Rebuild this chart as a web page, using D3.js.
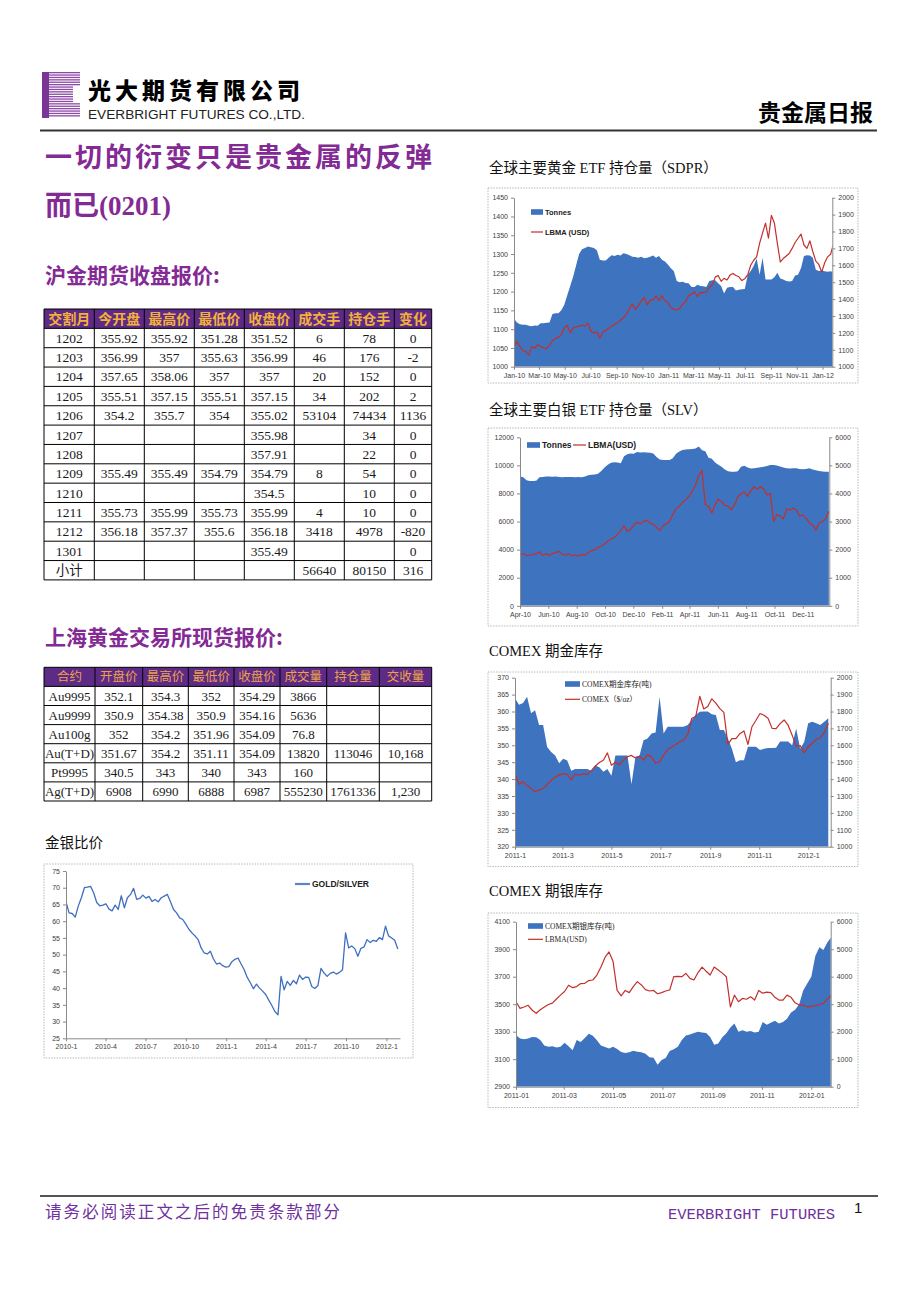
<!DOCTYPE html>
<html>
<head>
<meta charset="utf-8">
<script src="https://cdn.jsdelivr.net/npm/d3@7"></script>
<style>
  body { margin: 0; background: #fff; }
</style>
</head>
<body>
<svg id="page" width="920" height="1302" font-family="'Liberation Sans', Arial, sans-serif"></svg>
<script>
// ---------- table data ----------
const futHeader = ["交割月", "今开盘", "最高价", "最低价", "收盘价", "成交手", "持仓手", "变化"];
const futRows = [
  ["1202", "355.92", "355.92", "351.28", "351.52", "6", "78", "0"],
  ["1203", "356.99", "357", "355.63", "356.99", "46", "176", "-2"],
  ["1204", "357.65", "358.06", "357", "357", "20", "152", "0"],
  ["1205", "355.51", "357.15", "355.51", "357.15", "34", "202", "2"],
  ["1206", "354.2", "355.7", "354", "355.02", "53104", "74434", "1136"],
  ["1207", "", "", "", "355.98", "", "34", "0"],
  ["1208", "", "", "", "357.91", "", "22", "0"],
  ["1209", "355.49", "355.49", "354.79", "354.79", "8", "54", "0"],
  ["1210", "", "", "", "354.5", "", "10", "0"],
  ["1211", "355.73", "355.99", "355.73", "355.99", "4", "10", "0"],
  ["1212", "356.18", "357.37", "355.6", "356.18", "3418", "4978", "-820"],
  ["1301", "", "", "", "355.49", "", "", "0"],
  ["小计", "", "", "", "", "56640", "80150", "316"]
];

const spotHeader = ["合约", "开盘价", "最高价", "最低价", "收盘价", "成交量", "持仓量", "交收量"];
const spotRows = [
  ["Au9995", "352.1", "354.3", "352", "354.29", "3866", "", ""],
  ["Au9999", "350.9", "354.38", "350.9", "354.16", "5636", "", ""],
  ["Au100g", "352", "354.2", "351.96", "354.09", "76.8", "", ""],
  ["Au(T+D)", "351.67", "354.2", "351.11", "354.09", "13820", "113046", "10,168"],
  ["Pt9995", "340.5", "343", "340", "343", "160", "", ""],
  ["Ag(T+D)", "6908", "6990", "6888", "6987", "555230", "1761336", "1,230"]
];

// ---------- chart data (weekly / 5-day readings) ----------
// SPDR gold ETF, weekly from 2010-01-01
const sdprTonnes = [
  1128,1118,1113,1112,1112,1109,1108,1110,1109,1116,
  1116,1117,1118,1140,1142,1142,1150,1165,1190,1215,
  1240,1270,1300,1313,1316,1320,1318,1316,1310,1285,
  1283,1283,1290,1297,1295,1298,1296,1302,1300,1297,
  1293,1292,1290,1293,1289,1290,1293,1296,1290,1295,
  1285,1280,1272,1262,1255,1228,1225,1226,1223,1222,
  1212,1212,1218,1215,1214,1212,1228,1230,1230,1222,
  1215,1195,1210,1212,1212,1203,1205,1206,1207,1245,
  1255,1268,1288,1245,1290,1232,1232,1232,1238,1250,
  1235,1232,1228,1227,1228,1243,1245,1263,1295,1297,
  1296,1290,1258,1255,1256,1254,1253,1254,1252
];
const sdprLbma = [
  1120,1150,1120,1095,1090,1070,1120,1110,1130,1120,
  1112,1105,1128,1155,1165,1175,1190,1230,1245,1200,
  1230,1235,1240,1245,1240,1258,1210,1200,1207,1170,
  1205,1215,1228,1240,1250,1262,1275,1290,1310,1345,
  1370,1340,1360,1390,1410,1365,1394,1395,1420,1390,
  1420,1390,1380,1350,1340,1335,1345,1370,1385,1420,
  1430,1444,1414,1440,1438,1444,1470,1483,1530,1540,
  1505,1523,1513,1542,1552,1540,1532,1510,1520,1545,
  1600,1630,1650,1730,1790,1850,1760,1895,1850,1730,
  1620,1640,1655,1670,1700,1735,1760,1785,1720,1700,
  1745,1680,1625,1605,1560,1615,1650,1665,1730
];
const sdprLeftTicks = [1000, 1050, 1100, 1150, 1200, 1250, 1300, 1350, 1400, 1450];
const sdprRightTicks = [1000, 1100, 1200, 1300, 1400, 1500, 1600, 1700, 1800, 1900, 2000];
const sdprXLabels = ["Jan-10", "Mar-10", "May-10", "Jul-10", "Sep-10", "Nov-10", "Jan-11",
  "Mar-11", "May-11", "Jul-11", "Sep-11", "Nov-11", "Jan-12"];

// iShares silver ETF, weekly from 2010-04-01
const slvTonnes = [
  9200,9150,8950,8890,8880,8900,9150,9180,9200,9210,
  9190,9200,9180,9160,9170,9180,9170,9160,9170,9160,
  9200,9300,9330,9350,9400,9600,9850,10050,10180,10220,
  10210,10150,10650,10800,10850,10830,10950,10920,10930,10920,
  10900,10850,10600,10420,10380,10390,10380,10500,10820,10980,
  11100,11140,11150,11160,11200,11350,11080,11000,10550,10480,
  10200,10050,9900,9700,9580,9550,9540,9580,9900,9980,
  9850,9780,9800,9830,9860,9900,9950,10030,10020,10000,
  9920,9850,9790,9780,9800,9790,9740,9720,9740,9790,
  9700,9650,9600,9560,9550,9550
];
const slvLbma = [
  1810,1860,1790,1800,1830,1850,1920,1800,1850,1790,
  1860,1900,1940,1830,1800,1850,1780,1800,1770,1830,
  1800,1900,1960,2000,2080,2130,2200,2300,2380,2430,
  2550,2680,2850,2650,2720,2870,2980,2920,3000,3050,
  2950,2900,2800,2680,2850,2920,3000,3250,3450,3550,
  3680,3780,3900,4080,4300,4650,4820,3600,3550,3300,
  3600,3800,3700,3580,3550,3420,3600,3880,4000,4050,
  3900,4100,4240,4150,4250,4150,3950,4000,3000,3250,
  3200,3100,3450,3400,3480,3420,3200,3230,3120,2950,
  2880,2700,2950,3000,3100,3370
];
const slvLeftTicks = [0, 2000, 4000, 6000, 8000, 10000, 12000];
const slvRightTicks = [0, 1000, 2000, 3000, 4000, 5000, 6000];
const slvXLabels = ["Apr-10", "Jun-10", "Aug-10", "Oct-10", "Dec-10", "Feb-11", "Apr-11",
  "Jun-11", "Aug-11", "Oct-11", "Dec-11"];

// COMEX gold stock and price, every 5 days from 2011-01-01
const cmxGoldStock = [
  363.9,362,362.5,364.4,359.5,360.4,356,356,349.5,348,
  347,344.7,346,345.5,342.5,343,343,343,343,342.5,
  344,343.5,342.2,343,341,347,347,347,347,338.5,
  346.6,347,351.5,352,353.5,353.8,364.4,353.5,355.5,355.5,
  355.5,355.5,355.5,356,357.5,359,359.9,360,360,359.2,
  359,354.5,354.5,352,349,345,345.6,345.6,349.6,349.6,
  349.6,348.6,349,349.2,349.2,349.3,351.1,351.1,351.1,350,
  355,349,351,356.5,357,356.5,356,357,358
];
const cmxGoldPrice = [
  1430,1370,1385,1362,1345,1325,1335,1345,1368,1392,
  1412,1425,1432,1428,1395,1430,1423,1432,1428,1450,
  1478,1498,1512,1555,1482,1500,1485,1512,1532,1540,
  1525,1535,1512,1545,1530,1495,1502,1540,1575,1590,
  1605,1620,1630,1665,1760,1770,1890,1815,1830,1875,
  1850,1817,1795,1605,1640,1640,1669,1685,1605,1710,
  1748,1788,1778,1760,1700,1699,1728,1750,1719,1660,
  1595,1598,1555,1591,1612,1635,1645,1675,1730
];
const cmxGoldLeftTicks = [320, 325, 330, 335, 340, 345, 350, 355, 360, 365, 370];
const cmxGoldRightTicks = [1000, 1100, 1200, 1300, 1400, 1500, 1600, 1700, 1800, 1900, 2000];
const cmxGoldXLabels = ["2011-1", "2011-3", "2011-5", "2011-7", "2011-9", "2011-11", "2012-1"];

// COMEX silver stock and LBMA silver, every 5 days from 2011-01-01
const cmxSilverStock = [
  3276,3250,3245,3250,3262,3260,3240,3200,3190,3195,
  3185,3190,3220,3195,3165,3240,3225,3255,3285,3270,
  3238,3200,3188,3178,3190,3175,3152,3145,3150,3162,
  3155,3150,3140,3115,3110,3060,3095,3108,3160,3172,
  3190,3240,3272,3280,3290,3300,3295,3290,3262,3205,
  3215,3260,3288,3330,3360,3300,3310,3300,3305,3295,
  3300,3370,3350,3365,3380,3360,3370,3395,3440,3460,
  3500,3600,3650,3700,3850,3915,3895,3950,3990
];
const cmxSilverLbma = [
  3090,2850,2900,2960,2780,2670,2800,2900,2990,3040,
  3190,3330,3460,3690,3600,3640,3750,3760,3860,3880,
  4060,4350,4700,4900,4550,3500,3300,3500,3420,3640,
  3820,3700,3530,3480,3500,3380,3420,3480,3515,4000,
  4010,4000,4120,3940,3880,4150,4350,4200,4060,4350,
  4240,4130,4000,2900,3330,3090,3210,3180,3270,3150,
  3500,3400,3440,3420,3250,3150,3150,3330,3250,3050,
  2970,2970,2900,2920,2950,2990,3030,3200,3330
];
const cmxSilverLeftTicks = [2900, 3100, 3300, 3500, 3700, 3900, 4100];
const cmxSilverRightTicks = [0, 1000, 2000, 3000, 4000, 5000, 6000];
const cmxSilverXLabels = ["2011-01", "2011-03", "2011-05", "2011-07", "2011-09", "2011-11", "2012-01"];

// gold / silver ratio, weekly from 2010-01-01
const goldSilver = [
  65.8,62.5,62.3,61.2,64.5,67.0,70.0,70.2,70.4,68.5,
  65.6,64.6,64.8,65.2,63.6,63.1,64.8,63.5,67.6,64.0,
  67.0,68.0,69.8,66.5,66.8,67.8,66.9,67.4,65.9,66.5,
  65.8,67.0,67.5,68.0,65.8,63.5,62.5,61.0,60.5,59.1,
  57.6,56.5,55.6,54.5,52.0,50.5,50.2,51.0,48.7,47.2,
  47.5,46.7,46.3,46.4,47.9,48.6,49.0,47.2,45.5,43.2,
  41.6,39.8,41.2,40.0,39.1,38.1,36.4,34.8,33.0,32.0,
  43.5,39.5,42.0,40.8,42.3,41.3,43.9,42.6,43.3,43.2,
  40.5,39.9,40.8,45.9,44.5,43.5,44.4,44.8,44.2,44.7,
  45.5,56.5,52.0,52.6,51.8,49.5,51.9,52.3,54.5,53.6,
  54.3,54.0,55.1,54.5,58.5,55.6,55.0,54.3,51.7
];
const gsTicks = [25, 30, 35, 40, 45, 50, 55, 60, 65, 70, 75];
const gsXLabels = ["2010-1", "2010-4", "2010-7", "2010-10", "2011-1", "2011-4", "2011-7", "2011-10", "2012-1"];

// ---------- page ----------
const svg = d3.select("#page");
const PURPLE = "#842a94";
const CJK = "'Noto Sans CJK SC', sans-serif";
const SERIF = "'Liberation Serif', 'Noto Sans CJK SC', serif";
const AREA = "#3e73bf";
const RED = "#c3302c";

svg.append("rect").attr("width", 920).attr("height", 1302).attr("fill", "#fff");

// logo: striped E
const logo = svg.append("g");
logo.append("rect").attr("x", 42).attr("y", 72).attr("width", 7).attr("height", 46).attr("fill", "#7b3595");
d3.range(72, 117.5, 2.4).forEach(y => {
  const end = y < 86 ? 80 : (y < 102 ? 73 : 80);
  logo.append("rect").attr("x", 49).attr("y", y).attr("width", end - 49).attr("height", 1.3).attr("fill", "#8c4aa5");
});

svg.append("text").attr("x", 88).attr("y", 99).attr("font-family", CJK).attr("font-weight", 900)
  .attr("font-size", 23).attr("textLength", 212).attr("lengthAdjust", "spacing").text("光大期货有限公司");
svg.append("text").attr("x", 88).attr("y", 119).attr("font-size", 12.5).attr("fill", "#222")
  .attr("textLength", 217).attr("lengthAdjust", "spacingAndGlyphs").text("EVERBRIGHT FUTURES CO.,LTD.");
svg.append("text").attr("x", 873).attr("y", 121).attr("text-anchor", "end").attr("font-family", CJK)
  .attr("font-weight", 700).attr("font-size", 23).text("贵金属日报");
svg.append("line").attr("x1", 40).attr("x2", 877).attr("y1", 130.5).attr("y2", 130.5)
  .attr("stroke", "#333").attr("stroke-width", 2);

// headings
svg.append("text").attr("x", 45).attr("y", 167).attr("font-family", CJK).attr("font-weight", 700)
  .attr("font-size", 27).attr("fill", PURPLE).attr("textLength", 387).attr("lengthAdjust", "spacing")
  .text("一切的衍变只是贵金属的反弹");
const t2 = svg.append("text").attr("x", 45).attr("y", 215).attr("font-weight", 700).attr("font-size", 27).attr("fill", PURPLE);
t2.append("tspan").attr("font-family", CJK).text("而已");
t2.append("tspan").attr("font-family", "'Liberation Serif', serif").text("(0201)");

svg.append("text").attr("x", 45).attr("y", 283).attr("font-family", CJK).attr("font-weight", 700)
  .attr("font-size", 21).attr("fill", PURPLE).text("沪金期货收盘报价:");
svg.append("text").attr("x", 45).attr("y", 645).attr("font-family", CJK).attr("font-weight", 700)
  .attr("font-size", 21).attr("fill", PURPLE).text("上海黄金交易所现货报价:");

[["金银比价", 45, 848], ["全球主要黄金 ETF 持仓量（SDPR）", 489, 172.5], ["全球主要白银 ETF 持仓量（SLV）", 489, 414.5],
 ["COMEX 期金库存", 489, 655.5], ["COMEX 期银库存", 489, 895.5]].forEach(([t, x, y]) => {
  svg.append("text").attr("x", x).attr("y", y).attr("font-family", SERIF).attr("font-size", 14.5).attr("fill", "#111").text(t);
});

// ---------- tables ----------
function drawTable(edges, top, rowH, header, rows, hdr, bodySize) {
  const g = svg.append("g");
  const x0 = edges[0], x1 = edges[edges.length - 1];
  const nRows = rows.length + 1;
  g.append("rect").attr("x", x0).attr("y", top).attr("width", x1 - x0).attr("height", rowH).attr("fill", "#5d2a85");
  g.selectAll("text.h").data(header).join("text").attr("class", "h")
    .attr("x", (d, i) => (edges[i] + edges[i + 1]) / 2).attr("y", top + rowH / 2).attr("dy", "0.36em")
    .attr("text-anchor", "middle").attr("font-family", CJK).attr("font-size", hdr.size)
    .attr("font-weight", hdr.weight).attr("fill", hdr.color).text(d => d);
  const cells = [];
  rows.forEach((r, ri) => r.forEach((c, ci) => cells.push({ r: ri, c: ci, v: c })));
  g.selectAll("text.c").data(cells.filter(d => d.v !== "")).join("text").attr("class", "c")
    .attr("x", d => (edges[d.c] + edges[d.c + 1]) / 2).attr("y", d => top + (d.r + 1.5) * rowH).attr("dy", "0.35em")
    .attr("text-anchor", "middle").attr("font-family", SERIF)
    .attr("font-size", bodySize).attr("fill", "#1a1a1a").text(d => d.v);
  g.selectAll("line.hr").data(d3.range(nRows + 1)).join("line").attr("class", "hr")
    .attr("x1", x0).attr("x2", x1).attr("y1", k => top + k * rowH).attr("y2", k => top + k * rowH)
    .attr("stroke", "#000").attr("stroke-width", 1);
  g.selectAll("line.vr").data(edges).join("line").attr("class", "vr")
    .attr("x1", e => e).attr("x2", e => e).attr("y1", top).attr("y2", top + nRows * rowH)
    .attr("stroke", "#000").attr("stroke-width", 1);
}

drawTable([44, 94.3, 144.3, 194.3, 244.3, 294.3, 344.3, 394.3, 431.7], 309, 19.35, futHeader, futRows,
  { size: 14, weight: 700, color: "#f3b13a" }, 13.5);
drawTable([44, 95, 142.7, 188.3, 234, 280, 326.7, 379.3, 431.7], 667.3, 19.1, spotHeader, spotRows,
  { size: 12.5, weight: 400, color: "#eda24a" }, 13);

// ---------- charts ----------
function styleAxis(a) {
  a.attr("font-size", 7).attr("font-family", "'Liberation Sans', Arial, sans-serif");
  a.select(".domain").attr("stroke", "#8a8a8a");
  a.selectAll(".tick line").attr("stroke", "#8a8a8a");
  a.selectAll(".tick text").attr("fill", "#404040");
}

function frame(box) {
  svg.append("rect").attr("x", box[0]).attr("y", box[1]).attr("width", box[2] - box[0]).attr("height", box[3] - box[1])
    .attr("fill", "none").attr("stroke", "#b8b8b8").attr("stroke-dasharray", "1.5,1.2");
}

function dated(values, start, step) {
  const s = new Date(start + "T00:00:00");
  return values.map((v, i) => ({ date: d3.timeDay.offset(s, i * step), v }));
}

function drawChart(o) {
  frame(o.box);
  const [px0, py0, px1, py1] = o.plot;
  const g = svg.append("g");
  const x = d3.scaleTime().domain(o.xDomain.map(s => new Date(s + "T00:00:00"))).range([px0, px1]);
  const yL = d3.scaleLinear().domain(d3.extent(o.leftTicks)).range([py1, py0]);
  const clipId = "clip-" + o.id;
  g.append("clipPath").attr("id", clipId).append("rect").attr("x", px0).attr("y", py0 - 2)
    .attr("width", px1 - px0).attr("height", py1 - py0 + 2);
  const plot = g.append("g").attr("clip-path", `url(#${clipId})`);

  if (o.area) {
    const ad = dated(o.area, o.start, o.step);
    plot.append("path").datum(ad).attr("fill", AREA)
      .attr("d", d3.area().x(d => x(d.date)).y0(yL(yL.domain()[0])).y1(d => yL(d.v)));
  }
  let yR = null;
  if (o.rightTicks) {
    yR = d3.scaleLinear().domain(d3.extent(o.rightTicks)).range([py1, py0]);
    const ld = dated(o.line, o.start, o.step);
    plot.append("path").datum(ld).attr("fill", "none").attr("stroke", RED).attr("stroke-width", 1.2)
      .attr("stroke-linejoin", "round").attr("d", d3.line().x(d => x(d.date)).y(d => yR(d.v)));
  } else {
    const ld = dated(o.line, o.start, o.step);
    plot.append("path").datum(ld).attr("fill", "none").attr("stroke", "#3f6fbf").attr("stroke-width", 1.3)
      .attr("stroke-linejoin", "round").attr("d", d3.line().x(d => x(d.date)).y(d => yL(d.v)));
  }

  const parse = d3.timeParse(o.xFmt);
  const tickDates = o.xLabels.map(parse);
  const ax = g.append("g").attr("transform", `translate(0,${py1})`)
    .call(d3.axisBottom(x).tickValues(tickDates).tickFormat((d, i) => o.xLabels[i]).tickSize(3).tickSizeOuter(0).tickPadding(3));
  styleAxis(ax);
  const al = g.append("g").attr("transform", `translate(${px0},0)`)
    .call(d3.axisLeft(yL).tickValues(o.leftTicks).tickFormat(d3.format("d")).tickSize(3).tickSizeOuter(0).tickPadding(3));
  styleAxis(al);
  if (yR) {
    const ar = g.append("g").attr("transform", `translate(${px1},0)`)
      .call(d3.axisRight(yR).tickValues(o.rightTicks).tickFormat(d3.format("d")).tickSize(3).tickSizeOuter(0).tickPadding(3));
    styleAxis(ar);
  }

  // legend
  const L = o.legend;
  if (L.area) {
    g.append("rect").attr("x", L.area[0]).attr("y", L.area[1] - 2.8).attr("width", L.w).attr("height", 5.6).attr("fill", AREA);
    g.append("text").attr("x", L.area[0] + L.w + 2).attr("y", L.area[1]).attr("dy", "0.35em")
      .attr("font-size", L.size).attr("font-weight", L.weight).attr("font-family", L.font).attr("fill", "#222").text(L.areaText);
  }
  g.append("line").attr("x1", L.line[0]).attr("x2", L.line[0] + L.w).attr("y1", L.line[1]).attr("y2", L.line[1])
    .attr("stroke", L.lineColor || RED).attr("stroke-width", L.lineWidth || 1.2);
  g.append("text").attr("x", L.line[0] + L.w + 2).attr("y", L.line[1]).attr("dy", "0.35em")
    .attr("font-size", L.size).attr("font-weight", L.weight).attr("font-family", L.font).attr("fill", "#222").text(L.lineText);
}

drawChart({
  id: "sdpr", box: [488, 188, 858, 383], plot: [514, 197.7, 832.3, 366.7],
  xDomain: ["2010-01-01", "2012-01-24"], start: "2010-01-01", step: 7,
  area: sdprTonnes, line: sdprLbma, leftTicks: sdprLeftTicks, rightTicks: sdprRightTicks,
  xLabels: sdprXLabels, xFmt: "%b-%y",
  legend: { area: [531, 212], line: [531, 232], w: 12, size: 7.5, weight: 700, font: "'Liberation Sans', sans-serif",
    areaText: "Tonnes", lineText: "LBMA (USD)" }
});

drawChart({
  id: "slv", box: [488, 428, 858, 626], plot: [520, 437.3, 829.3, 605.8],
  xDomain: ["2010-04-01", "2012-01-27"], start: "2010-04-01", step: 7,
  area: slvTonnes, line: slvLbma, leftTicks: slvLeftTicks, rightTicks: slvRightTicks,
  xLabels: slvXLabels, xFmt: "%b-%y",
  legend: { area: [527, 445], line: [573, 445], w: 13, size: 8.5, weight: 700, font: "'Liberation Sans', sans-serif",
    areaText: "Tonnes", lineText: "LBMA(USD)" }
});

drawChart({
  id: "cmxg", box: [488, 672, 858, 866.5], plot: [515, 677.7, 830.7, 846.7],
  xDomain: ["2011-01-01", "2012-01-29"], start: "2011-01-01", step: 5,
  area: cmxGoldStock, line: cmxGoldPrice, leftTicks: cmxGoldLeftTicks, rightTicks: cmxGoldRightTicks,
  xLabels: cmxGoldXLabels, xFmt: "%Y-%m",
  legend: { area: [565, 684], line: [565, 699.3], w: 15, size: 7.5, weight: 400, font: SERIF,
    areaText: "COMEX期金库存(吨)", lineText: "COMEX（$/oz）" }
});

drawChart({
  id: "cmxs", box: [488, 913, 858, 1107.5], plot: [516, 921.7, 830.7, 1086.7],
  xDomain: ["2011-01-01", "2012-01-25"], start: "2011-01-01", step: 5,
  area: cmxSilverStock, line: cmxSilverLbma, leftTicks: cmxSilverLeftTicks, rightTicks: cmxSilverRightTicks,
  xLabels: cmxSilverXLabels, xFmt: "%Y-%m",
  legend: { area: [528, 926], line: [528, 939.3], w: 15, size: 7.5, weight: 400, font: SERIF,
    areaText: "COMEX期银库存(吨)", lineText: "LBMA(USD)" }
});

drawChart({
  id: "gs", box: [44, 864, 413, 1058], plot: [66, 871, 400, 1038.3],
  xDomain: ["2010-01-01", "2012-02-01"], start: "2010-01-01", step: 7,
  line: goldSilver, leftTicks: gsTicks,
  xLabels: gsXLabels, xFmt: "%Y-%m",
  legend: { line: [295, 884], w: 15, size: 8.5, weight: 700, font: "'Liberation Sans', sans-serif",
    lineText: "GOLD/SILVER", lineColor: "#5a86c8", lineWidth: 2.2 }
});

// ---------- footer ----------
svg.append("line").attr("x1", 40).attr("x2", 878).attr("y1", 1196).attr("y2", 1196).attr("stroke", "#555").attr("stroke-width", 2);
svg.append("text").attr("x", 45).attr("y", 1218).attr("font-family", CJK).attr("font-size", 16.5)
  .attr("fill", "#7030a0").attr("textLength", 295).attr("lengthAdjust", "spacing").text("请务必阅读正文之后的免责条款部分");
svg.append("text").attr("x", 668).attr("y", 1219).attr("font-family", "'Liberation Mono', monospace").attr("font-size", 15)
  .attr("fill", "#7030a0").attr("textLength", 167).attr("lengthAdjust", "spacingAndGlyphs").text("EVERBRIGHT FUTURES");
svg.append("text").attr("x", 854).attr("y", 1213).attr("font-size", 15).attr("fill", "#111").text("1");
</script>
</body>
</html>
